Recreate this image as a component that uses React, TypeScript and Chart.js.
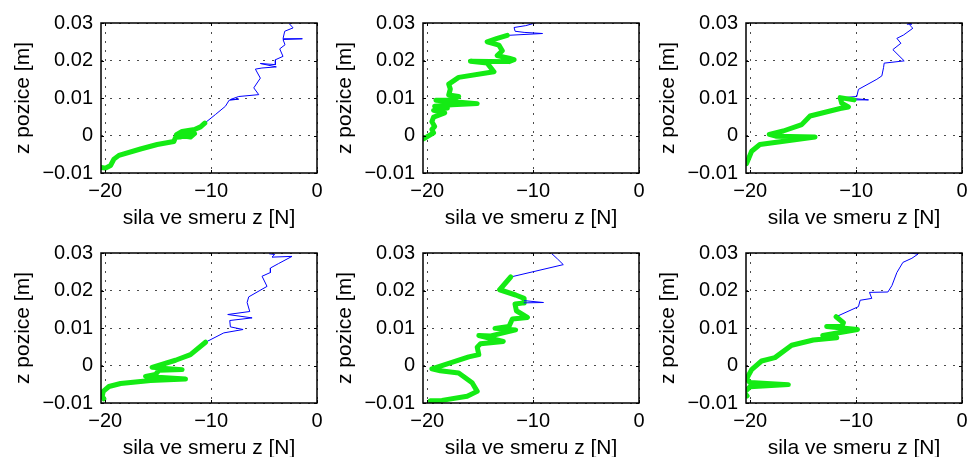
import React, { useEffect, useRef } from 'react';
import { Chart, registerables } from 'chart.js';
Chart.register(...registerables);

const FONT = '"Liberation Sans", Arial, Helvetica, sans-serif';
const BLUE = 'rgb(0,0,255)';
const GREEN = 'rgb(20,235,20)';

const xTicks = [-20, -10, 0];
const xTickLabels = ['−20', '−10', '0'];
const yTicks = [-0.01, 0, 0.01, 0.02, 0.03];
const yTickLabels = ['−0.01', '0', '0.01', '0.02', '0.03'];
const xTitle = 'sila ve smeru z [N]';
const yTitle = 'z pozice [m]';
const xMin = -20.4;
const xMax = 0;
const yMin = -0.01;
const yMax = 0.03;

// Panel 1 (top left)
const p1BlueF = [-2.61, -2.26, -3.05, -3.21, -1.38, -3.21, -3.02, -3.52, -3.21, -3.93, -3.93, -5.35, -3.84, -5.2, -5.82, -5.35, -5.97, -5.5, -7.39, -8.18, -7.39, -8.3, -8.65, -9.59, -10.6];
const p1BlueZ = [0.0298, 0.0287, 0.0278, 0.0258, 0.0258, 0.0256, 0.0242, 0.0231, 0.0211, 0.0202, 0.0189, 0.0192, 0.0183, 0.018, 0.0177, 0.0153, 0.0127, 0.0109, 0.0104, 0.0096, 0.0097, 0.0094, 0.0078, 0.0056, 0.0033];
const p1GreenF = [-10.6, -11.0, -11.57, -12.74, -13.27, -11.95, -11.57, -12.96, -13.36, -13.52, -15.09, -16.67, -18.71, -19.18, -19.5, -19.97, -20.38];
const p1GreenZ = [0.0033, 0.0023, 0.0016, 0.0011, 0.0002, -0.0004, 0.0005, -0.0004, -0.0005, -0.0016, -0.0024, -0.0036, -0.0053, -0.0063, -0.008, -0.0087, -0.0085];

// Panel 2 (top middle)
const p2BlueF = [-9.81, -10.7, -11.8, -11.7, -10.85, -9.11, -12.44];
const p2BlueZ = [0.03, 0.0293, 0.0288, 0.0278, 0.0275, 0.0272, 0.0267];
const p2GreenF = [-12.44, -13.39, -14.34, -13.23, -12.91, -13.39, -12.28, -11.8, -12.28, -15.92, -14.34, -13.7, -17.03, -17.97, -17.82, -17.97, -17.03, -17.82, -19.18, -15.28, -17.66, -19.3, -18.1, -19.4, -18.35, -19.4, -19.56, -19.3, -19.56, -19.4, -20.35];
const p2GreenZ = [0.0267, 0.0259, 0.025, 0.0241, 0.0226, 0.0213, 0.0206, 0.0202, 0.0197, 0.0198, 0.0193, 0.017, 0.0155, 0.0137, 0.0124, 0.0108, 0.0104, 0.0094, 0.0094, 0.0085, 0.0082, 0.0078, 0.0073, 0.0067, 0.006, 0.0049, 0.0037, 0.0024, 0.0016, 0.0007, -0.0009];

// Panel 3 (top right)
const p3BlueF = [-5.2, -4.73, -4.95, -4.89, -4.64, -5.52, -6.15, -5.77, -6.53, -5.46, -7.35, -7.41, -7.57, -8.04, -9.78, -9.94, -11.2, -8.83, -10.19];
const p3BlueZ = [0.0297, 0.0297, 0.03, 0.0293, 0.0286, 0.0268, 0.0259, 0.0246, 0.0229, 0.0199, 0.0193, 0.0181, 0.0159, 0.015, 0.0123, 0.0104, 0.0101, 0.0095, 0.0095];
const p3GreenF = [-10.19, -11.51, -11.36, -10.73, -11.51, -14.35, -15.14, -16.88, -18.2, -17.51, -13.88, -19.09, -19.87, -20.19, -20.35];
const p3GreenZ = [0.0095, 0.0101, 0.0086, 0.0076, 0.0072, 0.0052, 0.0029, 0.0012, 0.0003, -0.0002, -0.0004, -0.0024, -0.0042, -0.0064, -0.0075];

// Panel 4 (bottom left)
const p4BlueF = [-4.5, -4.0, -4.25, -2.36, -3.62, -4.4, -4.4, -5.19, -4.72, -6.45, -6.6, -6.35, -8.43, -6.13, -8.24, -8.18, -6.98, -8.8, -10.53];
const p4BlueZ = [0.0298, 0.0296, 0.0289, 0.0291, 0.0272, 0.026, 0.0248, 0.0238, 0.0211, 0.0183, 0.0168, 0.0144, 0.0136, 0.0127, 0.012, 0.0103, 0.0096, 0.0087, 0.0062];
const p4GreenF = [-10.53, -11.95, -13.36, -15.57, -12.74, -14.94, -15.25, -16.19, -12.42, -15.72, -18.55, -19.65, -20.19, -20.28, -20.13];
const p4GreenZ = [0.0062, 0.0029, 0.0014, -0.0005, -0.0011, -0.0013, -0.0024, -0.0029, -0.0036, -0.004, -0.0048, -0.0056, -0.0069, -0.0082, -0.0089];

// Panel 5 (bottom middle)
const p5BlueF = [-8.23, -7.69, -7.15, -12.12];
const p5BlueZ = [0.0298, 0.0284, 0.0269, 0.0236];
const p5SpikeF = [-10.85, -9.02, -10.85];
const p5SpikeZ = [0.0173, 0.0168, 0.0167];
const p5GreenF = [-12.12, -13.16, -11.65, -10.85, -10.85, -10.85, -11.71, -11.58, -10.54, -11.96, -12.28, -13.6, -11.65, -14.0, -15.13, -12.82, -14.97, -15.28, -15.13, -16.08, -19.56, -18.77, -17.03, -15.76, -15.28, -16.23, -18.61, -19.72];
const p5GreenZ = [0.0236, 0.0202, 0.0188, 0.0179, 0.0173, 0.0167, 0.0164, 0.0146, 0.0128, 0.0124, 0.0104, 0.0099, 0.0095, 0.0079, 0.008, 0.0064, 0.0058, 0.0049, 0.0029, 0.0023, -0.0009, -0.0014, -0.002, -0.0046, -0.0069, -0.0082, -0.0093, -0.0094];

// Panel 6 (bottom right)
const p6BlueF = [-4.89, -4.16, -4.73, -5.58, -6.15, -6.62, -7.0, -8.74, -8.52, -9.62, -9.78, -11.89];
const p6BlueZ = [0.03, 0.0297, 0.0286, 0.0275, 0.0248, 0.0213, 0.0196, 0.0195, 0.0179, 0.0174, 0.0157, 0.013];
const p6GreenF = [-11.89, -11.2, -11.36, -12.78, -9.87, -13.15, -11.83, -14.04, -16.09, -17.67, -18.93, -19.87, -20.35, -20.03, -16.4, -20.03, -20.35];
const p6GreenZ = [0.013, 0.0114, 0.0104, 0.0104, 0.0096, 0.008, 0.0074, 0.0068, 0.0054, 0.0021, 0.0012, -0.0011, -0.0036, -0.0045, -0.0051, -0.0057, -0.0066];
const p6DotF = [-20.35, -20.3];
const p6DotZ = [-0.0079, -0.0081];

type Series = { f: number[]; z: number[]; color: string; width: number };

const panels: { col: number; row: number; series: Series[] }[] = [
  { col: 0, row: 0, series: [
    { f: p1GreenF, z: p1GreenZ, color: GREEN, width: 5 },
    { f: p1BlueF, z: p1BlueZ, color: BLUE, width: 1 },
  ] },
  { col: 1, row: 0, series: [
    { f: p2GreenF, z: p2GreenZ, color: GREEN, width: 5 },
    { f: p2BlueF, z: p2BlueZ, color: BLUE, width: 1 },
  ] },
  { col: 2, row: 0, series: [
    { f: p3GreenF, z: p3GreenZ, color: GREEN, width: 5 },
    { f: p3BlueF, z: p3BlueZ, color: BLUE, width: 1 },
  ] },
  { col: 0, row: 1, series: [
    { f: p4GreenF, z: p4GreenZ, color: GREEN, width: 5 },
    { f: p4BlueF, z: p4BlueZ, color: BLUE, width: 1 },
  ] },
  { col: 1, row: 1, series: [
    { f: p5SpikeF, z: p5SpikeZ, color: BLUE, width: 1 },
    { f: p5GreenF, z: p5GreenZ, color: GREEN, width: 5 },
    { f: p5BlueF, z: p5BlueZ, color: BLUE, width: 1 },
  ] },
  { col: 2, row: 1, series: [
    { f: p6GreenF, z: p6GreenZ, color: GREEN, width: 5 },
    { f: p6DotF, z: p6DotZ, color: GREEN, width: 5 },
    { f: p6BlueF, z: p6BlueZ, color: BLUE, width: 1 },
  ] },
];

const PLOT_LEFTS = [101, 423, 746];
const PLOT_TOPS = [23, 253];
const Y_AXIS_W = 100;
const X_AXIS_H = 58;
const PAD_TOP = 21;
const PAD_RIGHT = 13;
const PLOT_W = 216;
const PLOT_H = 150;
const CW = Y_AXIS_W + PLOT_W + PAD_RIGHT;
const CH = PAD_TOP + PLOT_H + X_AXIS_H;

const boxPlugin = {
  id: 'matlabBox',
  afterDraw(chart: any) {
    const { ctx, chartArea: a, scales } = chart;
    ctx.save();
    ctx.strokeStyle = '#000';
    ctx.lineWidth = 1;
    ctx.beginPath();
    for (const v of xTicks) {
      const px = Math.round(scales.x.getPixelForValue(v)) + 0.5;
      ctx.moveTo(px, a.bottom);
      ctx.lineTo(px, a.bottom - 3);
      ctx.moveTo(px, a.top);
      ctx.lineTo(px, a.top + 3);
    }
    for (const v of yTicks) {
      const py = Math.round(scales.y.getPixelForValue(v)) + 0.5;
      ctx.moveTo(a.left, py);
      ctx.lineTo(a.left + 3, py);
      ctx.moveTo(a.right, py);
      ctx.lineTo(a.right - 3, py);
    }
    ctx.stroke();
    ctx.lineWidth = 1.5;
    ctx.strokeRect(a.left, a.top, a.right - a.left, a.bottom - a.top);
    ctx.restore();
  },
};

function Panel({ col, row, series }: { col: number; row: number; series: Series[] }) {
  const ref = useRef<HTMLCanvasElement>(null);
  useEffect(() => {
    const font = { family: FONT, size: 20 };
    const titleFont = { family: FONT, size: 21 };
    const chart = new Chart(ref.current as HTMLCanvasElement, {
      type: 'scatter',
      data: {
        datasets: series.map((s) => ({
          data: s.f.map((f, i) => ({ x: f, y: s.z[i] })),
          showLine: true,
          borderColor: s.color,
          backgroundColor: s.color,
          borderWidth: s.width,
          pointRadius: 0,
          pointHoverRadius: 0,
          tension: 0,
          borderJoinStyle: 'round',
          borderCapStyle: 'round',
        })),
      },
      options: {
        animation: false,
        responsive: false,
        devicePixelRatio: 1,
        events: [],
        layout: { padding: { top: PAD_TOP, right: PAD_RIGHT, left: 0, bottom: 0 } },
        plugins: { legend: { display: false }, tooltip: { enabled: false } },
        scales: {
          x: {
            type: 'linear',
            min: xMin,
            max: xMax,
            afterBuildTicks: (s: any) => { s.ticks = xTicks.map((value) => ({ value })); },
            afterFit: (s: any) => { s.height = X_AXIS_H; },
            grid: { color: 'rgba(0,0,0,0.7)', lineWidth: 1, drawTicks: false },
            border: { display: false, dash: [2, 7] },
            ticks: {
              padding: 6,
              color: '#000',
              font,
              autoSkip: false,
              maxRotation: 0,
              callback: (_v: any, i: number) => xTickLabels[i],
            },
            title: { display: true, text: xTitle, color: '#000', font: titleFont, padding: { top: 0, bottom: 0 } },
          },
          y: {
            type: 'linear',
            min: yMin,
            max: yMax,
            afterBuildTicks: (s: any) => { s.ticks = yTicks.map((value) => ({ value })); },
            afterFit: (s: any) => { s.width = Y_AXIS_W; },
            grid: { color: 'rgba(0,0,0,0.7)', lineWidth: 1, drawTicks: false },
            border: { display: false, dash: [2, 7] },
            ticks: {
              padding: 8,
              color: '#000',
              font,
              autoSkip: false,
              callback: (_v: any, i: number) => yTickLabels[i],
            },
            title: { display: true, text: yTitle, color: '#000', font: titleFont, padding: { top: 10, bottom: 0 } },
          },
        },
      },
      plugins: [boxPlugin],
    } as any);
    return () => chart.destroy();
  }, []);
  return (
    <canvas
      ref={ref}
      width={CW}
      height={CH}
      style={{
        position: 'absolute',
        left: PLOT_LEFTS[col] - Y_AXIS_W,
        top: PLOT_TOPS[row] - PAD_TOP,
        width: CW,
        height: CH,
      }}
    />
  );
}

export default function App() {
  return (
    <div
      style={{
        position: 'fixed',
        left: 0,
        top: 0,
        width: 968,
        height: 457,
        overflow: 'hidden',
        background: '#fff',
      }}
    >
      {panels.map((p, i) => (
        <Panel key={i} col={p.col} row={p.row} series={p.series} />
      ))}
    </div>
  );
}
